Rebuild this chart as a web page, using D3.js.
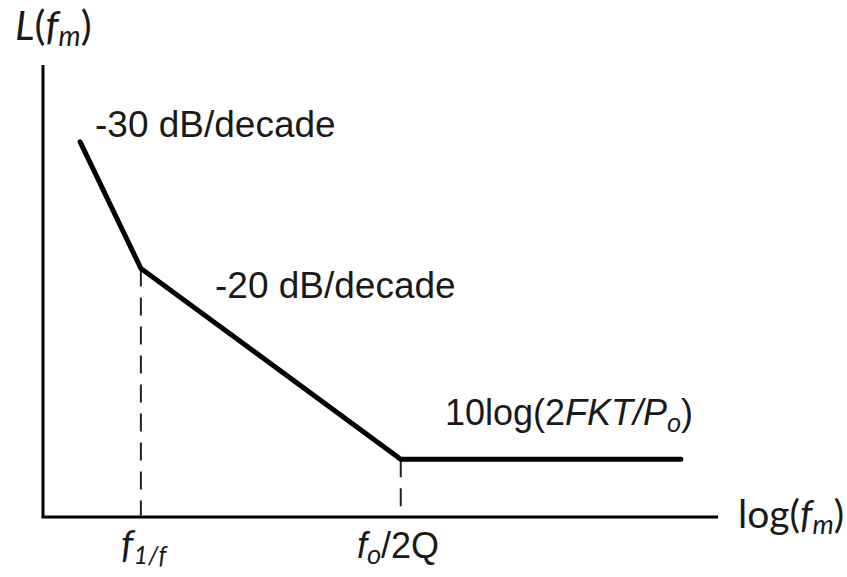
<html>
<head>
<meta charset="utf-8">
<script src="https://d3js.org/d3.v7.min.js"></script>
<style>
body { margin: 0; background: #fff; }
text { fill: #1a1a1a; }
.lbl { font-family: "Liberation Sans", Arial, sans-serif; font-size: 37px; }
.hum { font-family: Lato, "Open Sans", sans-serif; font-size: 39px; }
</style>
</head>
<body>
<script>
// piecewise phase-noise asymptote (abstract units: x = log(fm), y = L(fm))
var noiseX = [5.5, 14.5, 53, 94.5];
var noiseY = [83, 55, 12.8, 12.8];
// corner frequencies marked on the x axis
var cornerX = [14.5, 53];
var cornerY = [55, 12.8];

var width = 847, height = 577;
var x = d3.scaleLinear().domain([0, 100]).range([43, 718]);
var y = d3.scaleLinear().domain([0, 100]).range([517, 65]);

var svg = d3.select("body").append("svg")
    .attr("width", width)
    .attr("height", height);

// axes (plain lines, no ticks)
svg.append("line")
    .attr("x1", x(0)).attr("y1", y(0))
    .attr("x2", x(0)).attr("y2", y(100))
    .attr("stroke", "#000").attr("stroke-width", 3);
svg.append("line")
    .attr("x1", x(0) - 1.5).attr("y1", y(0))
    .attr("x2", x(100)).attr("y2", y(0))
    .attr("stroke", "#000").attr("stroke-width", 3);

// dashed drop lines
svg.selectAll(".drop")
    .data(cornerX)
  .enter().append("line")
    .attr("class", "drop")
    .attr("x1", function(d) { return x(d); })
    .attr("x2", function(d) { return x(d); })
    .attr("y1", function(d, i) { return y(cornerY[i]); })
    .attr("y2", y(0))
    .attr("stroke", "#222")
    .attr("stroke-width", 2)
    .attr("stroke-dasharray", "18,11");

// the curve
var pts = noiseX.map(function(d, i) { return [d, noiseY[i]]; });
svg.append("path")
    .datum(pts)
    .attr("fill", "none")
    .attr("stroke", "#000")
    .attr("stroke-width", 5)
    .attr("stroke-linecap", "round")
    .attr("stroke-linejoin", "miter")
    .attr("d", d3.line().x(function(d) { return x(d[0]); }).y(function(d) { return y(d[1]); }));

// slope labels
svg.append("text").attr("class", "lbl")
    .attr("x", 95).attr("y", 137).text("-30 dB/decade");
svg.append("text").attr("class", "lbl")
    .attr("x", 215).attr("y", 298).text("-20 dB/decade");

var t = svg.append("text").attr("class", "lbl").attr("x", 445).attr("y", 425).style("font-size", "36px");
t.append("tspan").text("10log(2");
t.append("tspan").style("font-style", "italic").text("FKT/P");
t.append("tspan").style("font-style", "italic").style("font-size", "25px").attr("dy", 7).text("o");
t.append("tspan").attr("dy", -7).text(")");

// axis titles
var ly = svg.append("text").attr("class", "hum").attr("x", 15).attr("y", 40).style("font-size", "41px");
ly.append("tspan").style("font-style", "italic").text("L");
ly.append("tspan").text("(");
ly.append("tspan").style("font-style", "italic").text("f");
ly.append("tspan").style("font-style", "italic").style("font-size", "28px").attr("dy", 6).text("m");
ly.append("tspan").attr("dy", -6).text(")");

var lx = svg.append("text").attr("class", "hum").attr("x", 738).attr("y", 528);
lx.append("tspan").text("log(");
lx.append("tspan").style("font-style", "italic").text("f");
lx.append("tspan").style("font-style", "italic").style("font-size", "27px").attr("dy", 6).text("m");
lx.append("tspan").attr("dy", -6).text(")");

// corner labels
var c1 = svg.append("text").attr("class", "hum").attr("x", 121).attr("y", 558);
c1.append("tspan").style("font-style", "italic").text("f");
c1.append("tspan").style("font-style", "italic").style("font-size", "25px").attr("dy", 6).text("1/f");

var c2 = svg.append("text").attr("class", "lbl").attr("x", 357).attr("y", 558).style("font-size", "36px");
c2.append("tspan").style("font-style", "italic").text("f");
c2.append("tspan").style("font-style", "italic").style("font-size", "25px").attr("dy", 6).text("o");
c2.append("tspan").attr("dy", -6).text("/2Q");
</script>
</body>
</html>
